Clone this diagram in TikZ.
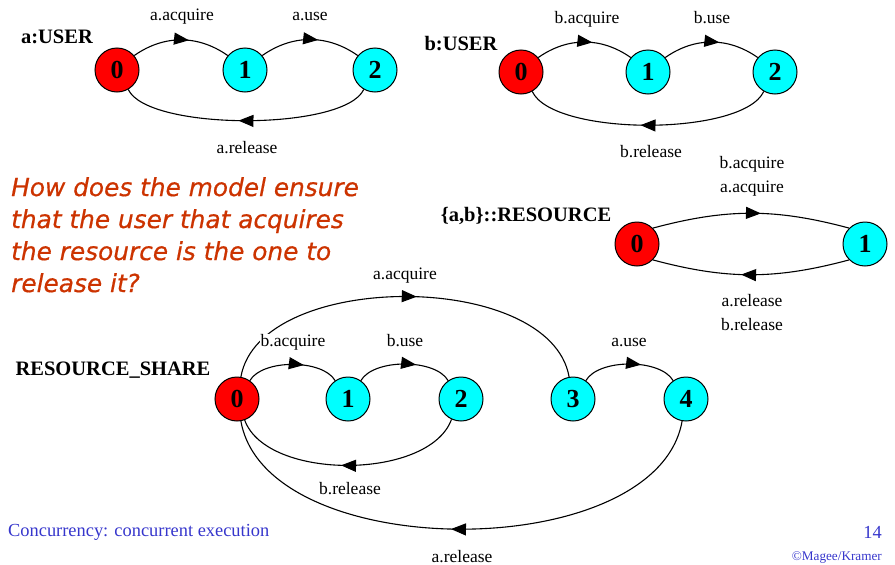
\documentclass[tikz,border=0pt]{standalone}
\usepackage{fontspec}
\setmainfont{Liberation Serif}
\newfontfamily\manofont[ItalicFeatures={FakeBold=0.6}]{DejaVu Sans}
\usetikzlibrary{arrows.meta, decorations.markings}
\definecolor{rojo}{HTML}{FF0000}
\definecolor{cian}{HTML}{00FFFF}
\definecolor{ladrillo}{HTML}{CC3300}
\definecolor{azul}{HTML}{3636CC}
\tikzset{
  estado/.style={circle, draw=black, line width=1pt, fill=cian, minimum size=44pt, inner sep=0pt,
                 font=\fontsize{26}{26}\selectfont\bfseries},
  inicio/.style={estado, fill=rojo},
  titulo/.style={anchor=base, inner sep=0pt, font=\fontsize{20.5}{22}\selectfont\bfseries},
  etiq/.style={anchor=base, fill=white, inner sep=1pt, font=\fontsize{17.5}{24.4}\selectfont},
  etiqs/.style={etiq, anchor=center, align=center},
  flecha/.style={line width=1.1pt, postaction={decorate},
                 decoration={markings, mark=at position #1 with {\arrow{Triangle[length=15pt, width=12pt]}}}},
  flecha/.default=0.55,
  pie/.style={inner sep=0pt, text=azul},
}
\begin{document}
\begin{tikzpicture}[x=1pt, y=1pt]
  \useasboundingbox (0,0) rectangle (895,-565);
  % a:USER
  \node[titulo] (ta) at (57,-43) {a:USER};
  \node[inicio] (a0) at (117,-70) {0};
  \node[estado] (a1) at (245,-70) {1};
  \node[estado] (a2) at (375,-70) {2};
  \draw[flecha=0.58] (a0.40) to[out=35, in=145] (a1.140);
  \draw[flecha=0.58] (a1.40) to[out=35, in=145] (a2.140);
  \draw[flecha=0.53] (a2.-120) to[out=-115, in=-65, looseness=0.5] (a0.-60);
  \node[etiq] (la1) at (182,-20) {a.acquire};
  \node[etiq] (la2) at (310,-20) {a.use};
  \node[etiq] (la3) at (247,-153) {a.release};
  % b:USER
  \node[titulo] (tb) at (461,-50) {b:USER};
  \node[inicio] (b0) at (521,-72) {0};
  \node[estado] (b1) at (648,-72) {1};
  \node[estado] (b2) at (775,-72) {2};
  \draw[flecha=0.58] (b0.40) to[out=35, in=145] (b1.140);
  \draw[flecha=0.58] (b1.40) to[out=35, in=145] (b2.140);
  \draw[flecha=0.53] (b2.-120) to[out=-115, in=-65, looseness=0.55] (b0.-60);
  \node[etiq] (lb1) at (587,-23) {b.acquire};
  \node[etiq] (lb2) at (712,-23) {b.use};
  \node[etiq] (lb3) at (651,-157) {b.release};
  % {a,b}::RESOURCE
  \node[titulo] (tr) at (526,-221) {\{a,b\}::RESOURCE};
  \node[inicio] (r0) at (637,-244) {0};
  \node[estado] (r1) at (865,-244) {1};
  \draw[flecha=0.55] (r0.45) to[out=15, in=165] (r1.135);
  \draw[flecha=0.55] (r1.-135) to[out=-165, in=-15] (r0.-45);
  \node[etiqs] (lr1) at (752,-176.4) {b.acquire\\a.acquire};
  \node[etiqs] (lr2) at (752,-312.3) {a.release\\b.release};
  % RESOURCE_SHARE
  \node[titulo] (ts) at (113,-375) {RESOURCE\_SHARE};
  \node[inicio] (s0) at (237,-399) {0};
  \node[estado] (s1) at (348,-399) {1};
  \node[estado] (s2) at (461,-399) {2};
  \node[estado] (s3) at (573,-399) {3};
  \node[estado] (s4) at (686,-399) {4};
  \draw[flecha=0.62] (s0.55) to[out=60, in=120, looseness=0.75] (s1.125);
  \draw[flecha=0.62] (s1.55) to[out=60, in=120, looseness=0.75] (s2.125);
  \draw[flecha=0.62] (s3.55) to[out=60, in=120, looseness=0.75] (s4.125);
  \draw[flecha=0.53] (s0.80) to[out=80, in=100, looseness=0.85] (s3.100);
  \draw[flecha=0.53] (s2.-115) to[out=-110, in=-70, looseness=0.8] (s0.-70);
  \draw[flecha=0.52] (s4.-100) to[out=-100, in=-80, looseness=0.85] (s0.-80);
  \node[etiq] (ls1) at (293,-346.7) {b.acquire};
  \node[etiq] (ls2) at (405,-346.7) {b.use};
  \node[etiq] (ls3) at (405,-279) {a.acquire};
  \node[etiq] (ls4) at (629,-346.7) {a.use};
  \node[etiq] (ls5) at (350,-494) {b.release};
  \node[etiq] (ls6) at (462,-562.7) {a.release};
  % pregunta y pie
  \node[anchor=north west, inner sep=0pt, align=left, text=ladrillo,
        font=\manofont\itshape\fontsize{24.8}{32}\selectfont] (preg) at (11,-177)
        {How does the model ensure\\that the user that acquires\\the resource is the one to\\release it?};
  \node[pie, anchor=west, font=\rmfamily\fontsize{18.4}{20}\selectfont] (tema) at (8,-532) {Concurrency: concurrent execution};
  \node[pie, anchor=east, font=\rmfamily\fontsize{18.4}{20}\selectfont] (num) at (882,-532) {14};
  \node[pie, anchor=east, font=\rmfamily\fontsize{13.2}{14}\selectfont] (autor) at (882,-558) {©Magee/Kramer};
\end{tikzpicture}
\end{document}
